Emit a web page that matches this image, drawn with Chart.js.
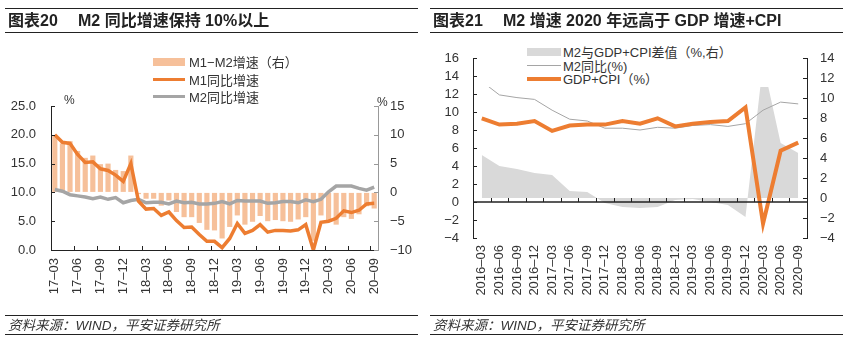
<!DOCTYPE html>
<html>
<head>
<meta charset="utf-8">
<script src="https://cdn.jsdelivr.net/npm/chart.js@4"></script>
<style>
  body { margin: 0; background: #fff; width: 848px; height: 346px; position: relative; overflow: hidden;
         font-family: "Liberation Sans", "Noto Sans CJK SC", sans-serif; color: #222; }
  canvas { position: absolute; top: 0; }
  .head { position: absolute; top: 8px; height: 23px; border-top: 1px solid #222; border-bottom: 1px solid #222;
          font-size: 16px; font-weight: bold; line-height: 24px; white-space: nowrap; }
  .head .num { display: inline-block; width: 70px; padding-left: 3px; }
  .src { position: absolute; top: 315px; height: 18px; border-top: 1px solid #222; border-bottom: 1px solid #222;
         font-size: 13.5px; font-style: italic; line-height: 19px; padding-left: 3px; box-sizing: content-box; white-space: nowrap; color: #333; }
  .legend { position: absolute; font-size: 13px; color: #333; }
  .legend div { display: flex; align-items: center; white-space: nowrap; }
  .legend i { display: inline-block; }
  .unit { position: absolute; font-size: 12px; color: #333; }
</style>
</head>
<body>
<canvas id="c20" width="424" height="346" style="left:0"></canvas>
<canvas id="c21" width="424" height="346" style="left:424px"></canvas>

<div class="head" style="left:5px; width:413px"><span class="num">图表20</span>M2 同比增速保持 10%以上</div>
<div class="head" style="left:430px; width:413px"><span class="num">图表21</span>M2 增速 2020 年远高于 GDP 增速+CPI</div>
<div class="src" style="left:5px; width:410px">资料来源：WIND，平安证券研究所</div>
<div class="src" style="left:430px; width:410px">资料来源：WIND，平安证券研究所</div>

<div class="legend" id="leg20" style="left:153px; top:53px;"></div>
<div class="legend" id="leg21" style="left:480px; top:44px; width:295px; height:42.5px; background:#fff; padding-left:47px; box-sizing:border-box; padding-top:1px"></div>
<span class="unit" style="left:64px; top:93px">%</span>
<span class="unit" style="left:377px; top:95px">%</span>

<script>
// chart 20: monthly M1 / M2, 2017-03 .. 2020-09
const months = ['17-03','17-04','17-05','17-06','17-07','17-08','17-09','17-10','17-11','17-12',
    '18-01','18-02','18-03','18-04','18-05','18-06','18-07','18-08','18-09','18-10','18-11','18-12',
    '19-01','19-02','19-03','19-04','19-05','19-06','19-07','19-08','19-09','19-10','19-11','19-12',
    '20-01','20-02','20-03','20-04','20-05','20-06','20-07','20-08','20-09']
const m1Yoy = [20.0, 18.7, 18.5, 16.6, 15.2, 15.3, 14.1, 13.8, 13.0, 11.9,
    15.0, 8.5, 7.1, 7.2, 6.0, 6.6, 5.1, 3.9, 4.0, 2.7, 1.5, 1.5,
    0.4, 2.0, 4.6, 2.9, 3.4, 4.4, 3.1, 3.4, 3.4, 3.3, 3.5, 4.4,
    0.0, 4.8, 5.0, 5.5, 6.8, 6.5, 6.9, 8.0, 8.1]
const m2Yoy = [10.5, 10.2, 9.6, 9.4, 9.2, 8.9, 9.2, 8.8, 9.1, 8.2,
    8.6, 8.8, 8.2, 8.3, 8.3, 8.0, 8.5, 8.2, 8.3, 8.0, 8.0, 8.1,
    8.4, 8.0, 8.6, 8.5, 8.5, 8.5, 8.1, 8.2, 8.4, 8.4, 8.2, 8.7,
    8.4, 8.8, 10.1, 11.1, 11.1, 11.1, 10.7, 10.4, 10.9]
const m1m2Gap = [9.8, 8.5, 8.9, 7.2, 6.0, 6.4, 4.9, 5.0, 3.9, 3.7,
    6.4, -0.3, -1.1, -1.1, -2.3, -1.4, -3.4, -4.3, -4.3, -5.3, -6.5, -6.6,
    -8.0, -6.0, -4.0, -5.6, -5.1, -4.1, -5.0, -4.8, -5.0, -5.1, -4.7, -4.3,
    -8.4, -4.0, -5.1, -5.6, -4.3, -4.6, -3.8, -2.4, -2.8]

// chart 21: quarterly, 2016-03 .. 2020-09
const quarters = ['2016-03','2016-06','2016-09','2016-12','2017-03','2017-06','2017-09','2017-12',
    '2018-03','2018-06','2018-09','2018-12','2019-03','2019-06','2019-09','2019-12',
    '2020-03','2020-06','2020-09']
const m2Quarter = [13.4, 11.9, 11.6, 11.4, 10.2, 9.2, 9.0, 8.2, 8.2, 8.0, 8.3, 8.2, 8.5, 8.6, 8.4, 8.7, 10.2, 11.1, 10.9]
const gdpCpi = [9.3, 8.6, 8.7, 9.0, 7.9, 8.5, 8.6, 8.6, 9.0, 8.7, 9.3, 8.4, 8.7, 8.9, 9.0, 10.5, -2.4, 5.7, 6.6]
const m2GapQ = [4.3, 3.2, 2.9, 2.5, 2.3, 0.7, 0.6, -0.5, -0.9, -1.0, -0.9, -0.2, -0.1, -0.4, -0.7, -1.9, 13.5, 5.5, 4.5]

const ORANGE = '#ED7D31'
const LIGHT_ORANGE = '#F6C09A'
const GREY = '#A5A5A5'
const AREA_GREY = '#D9D9D9'

Chart.defaults.font.family = '"Liberation Sans", "Noto Sans CJK SC", sans-serif'
Chart.defaults.font.size = 13
Chart.defaults.color = '#333'

const minus = v => (v < 0 ? '\u2212' + Math.abs(v) : '' + v)
const dash = s => s.replace('-', '\u2013')
const fixWidth = w => scale => { scale.width = w }
const fixHeight = h => scale => { scale.height = h }

// tick marks pointing into the plot, plus the zero line of chart 21
const innerTicks = {
    id: 'innerTicks',
    afterDatasetsDraw(chart, args, opts) {
        const ctx = chart.ctx
        const area = chart.chartArea
        const len = opts.len || 4
        ctx.save()
        ctx.lineWidth = 1
        for (const axis of opts.y || []) {
            const scale = chart.scales[axis.id]
            const x0 = axis.side === 'left' ? area.left : area.right
            const dir = axis.side === 'left' ? 1 : -1
            ctx.strokeStyle = axis.color
            ctx.beginPath()
            scale.ticks.forEach((t, i) => {
                const y = Math.round(scale.getPixelForTick(i)) + 0.5
                ctx.moveTo(x0, y)
                ctx.lineTo(x0 + dir * len, y)
            })
            ctx.stroke()
        }
        if (opts.x) {
            const xs = chart.scales.x
            const half = (xs.getPixelForValue(1) - xs.getPixelForValue(0)) / 2
            let y0 = area.bottom
            if (opts.x.zeroOf) {
                y0 = Math.round(chart.scales[opts.x.zeroOf].getPixelForValue(0))
                ctx.strokeStyle = opts.x.color
                ctx.lineWidth = 1.5
                ctx.beginPath()
                ctx.moveTo(area.left, y0)
                ctx.lineTo(area.right, y0)
                ctx.stroke()
                ctx.lineWidth = 1
            }
            ctx.strokeStyle = opts.x.color
            ctx.beginPath()
            for (let i = 0; i < xs.ticks.length; i += opts.x.every) {
                const x = Math.round(xs.getPixelForValue(i) - half) + 0.5
                ctx.moveTo(x, y0)
                ctx.lineTo(x, y0 - len)
            }
            ctx.stroke()
        }
        ctx.restore()
    }
}

const noGrid = { drawOnChartArea: false, drawTicks: false }

new Chart(document.getElementById('c20'), {
    type: 'bar',
    data: {
        labels: months,
        datasets: [
            { type: 'line', label: 'M1同比增速', data: m1Yoy, yAxisID: 'y', borderColor: ORANGE,
              borderWidth: 3.5, pointRadius: 0, order: 1 },
            { type: 'line', label: 'M2同比增速', data: m2Yoy, yAxisID: 'y', borderColor: GREY,
              borderWidth: 3.5, pointRadius: 0, order: 2 },
            { type: 'bar', label: 'M1\u2212M2增速（右）', data: m1m2Gap, yAxisID: 'y1', backgroundColor: LIGHT_ORANGE,
              barPercentage: 0.68, categoryPercentage: 1, order: 3 }
        ]
    },
    options: {
        responsive: false,
        animation: false,
        layout: { padding: { left: 11, right: 12, top: 106, bottom: 52 } },
        plugins: {
            legend: { display: false },
            tooltip: { enabled: false },
            innerTicks: {
                len: 4,
                y: [{ id: 'y', side: 'left', color: '#222' }, { id: 'y1', side: 'right', color: '#999' }],
                x: { every: 3, color: '#222' }
            }
        },
        scales: {
            x: {
                grid: noGrid,
                border: { color: '#222' },
                afterFit: fixHeight(44),
                ticks: {
                    autoSkip: false, minRotation: 90, maxRotation: 90, padding: 8,
                    callback: function (v, i) { return i % 3 === 0 ? dash(this.getLabelForValue(v)) : '' }
                }
            },
            y: {
                position: 'left', min: 0, max: 25,
                grid: noGrid, border: { color: '#222' },
                afterFit: fixWidth(40),
                ticks: { autoSkip: false, stepSize: 5, padding: 15, callback: v => v.toFixed(1) }
            },
            y1: {
                position: 'right', min: -10, max: 15,
                grid: noGrid, border: { color: '#999' },
                afterFit: fixWidth(34),
                ticks: { autoSkip: false, stepSize: 5, padding: 12, callback: minus }
            }
        }
    },
    plugins: [innerTicks]
})

new Chart(document.getElementById('c21'), {
    type: 'line',
    data: {
        labels: quarters,
        datasets: [
            { label: 'GDP+CPI（%）', data: gdpCpi, yAxisID: 'y', borderColor: ORANGE,
              borderWidth: 4, pointRadius: 0, order: 1 },
            { label: 'M2同比(%)', data: m2Quarter, yAxisID: 'y', borderColor: GREY,
              borderWidth: 1, pointRadius: 0, order: 2 },
            { label: 'M2与GDP+CPI差值（%,右）', data: m2GapQ, yAxisID: 'y1', borderWidth: 0,
              borderColor: 'rgba(0,0,0,0)', backgroundColor: AREA_GREY, fill: 'origin', pointRadius: 0, order: 3 }
        ]
    },
    options: {
        responsive: false,
        animation: false,
        layout: { padding: { left: 20, right: 13, top: 58, bottom: 51 } },
        plugins: {
            legend: { display: false },
            tooltip: { enabled: false },
            innerTicks: {
                len: 4,
                y: [{ id: 'y', side: 'left', color: '#222' }, { id: 'y1', side: 'right', color: '#222' }],
                x: { every: 1, color: '#222', zeroOf: 'y' }
            }
        },
        scales: {
            x: {
                offset: true,
                grid: noGrid,
                border: { display: false },
                afterFit: fixHeight(57),
                ticks: {
                    autoSkip: false, minRotation: 90, maxRotation: 90, padding: 7,
                    callback: function (v) { return dash(this.getLabelForValue(v)) }
                }
            },
            y: {
                position: 'left', min: -4, max: 16,
                grid: noGrid, border: { color: '#222' },
                afterFit: fixWidth(29),
                ticks: { autoSkip: false, stepSize: 2, padding: 14, callback: minus }
            },
            y1: {
                position: 'right', min: -4, max: 14,
                grid: noGrid, border: { color: '#222' },
                afterFit: fixWidth(28),
                ticks: { autoSkip: false, stepSize: 2, padding: 13, callback: minus }
            }
        }
    },
    plugins: [innerTicks]
})

// HTML legends
function buildLegend(id, items, rowHeight, gap) {
    const el = document.getElementById(id)
    items.forEach(it => {
        const row = document.createElement('div')
        row.style.height = rowHeight + 'px'
        row.innerHTML = `<i style="width:${it.w}px;height:${it.h}px;background:${it.color};margin-right:${gap}px"></i>${it.name}`
        el.appendChild(row)
    })
}
buildLegend('leg20', [
    { name: 'M1\u2212M2增速（右）', color: LIGHT_ORANGE, w: 32, h: 8 },
    { name: 'M1同比增速', color: ORANGE, w: 32, h: 3 },
    { name: 'M2同比增速', color: GREY, w: 32, h: 3 }
], 17.5, 4)
buildLegend('leg21', [
    { name: 'M2与GDP+CPI差值（%,右）', color: AREA_GREY, w: 34, h: 8 },
    { name: 'M2同比(%)', color: GREY, w: 34, h: 1 },
    { name: 'GDP+CPI（%）', color: ORANGE, w: 34, h: 4 }
], 13.5, 2)
</script>
</body>
</html>
